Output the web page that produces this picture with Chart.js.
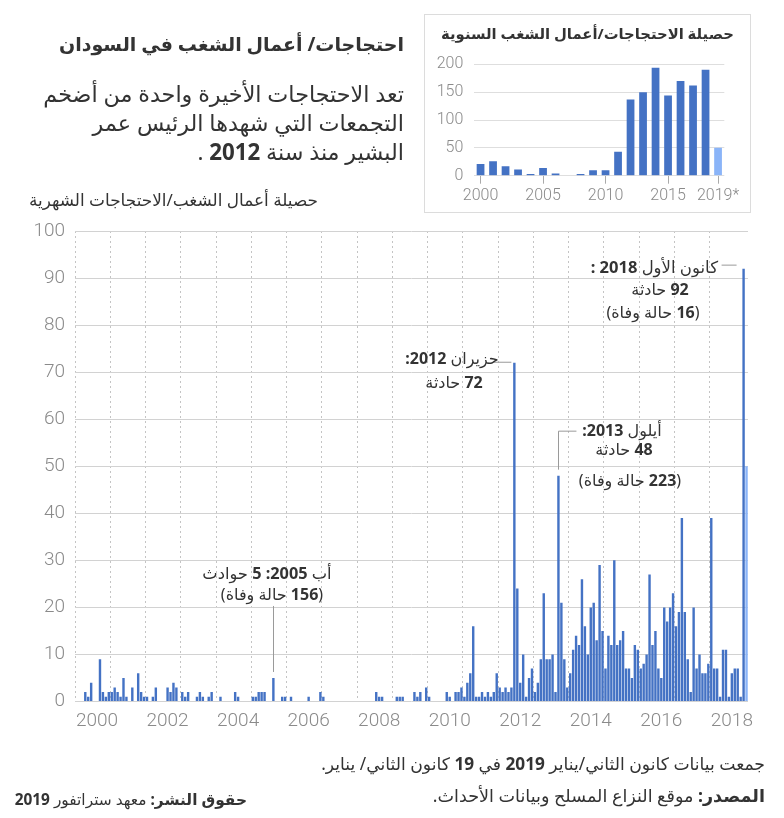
<!DOCTYPE html>
<html lang="ar">
<head>
<meta charset="utf-8">
<script src="https://cdn.jsdelivr.net/npm/chart.js@4.4.1/dist/chart.umd.min.js"></script>
<style>
html,body{margin:0;padding:0;background:#fff;width:784px;height:818px;overflow:hidden;}
body{position:relative;font-family:"Noto Sans","DejaVu Sans",sans-serif;color:#333;}
.t{position:absolute;direction:rtl;white-space:nowrap;}
.b{font-weight:700;}
#main{position:absolute;left:0;top:0;}
#insetBox{position:absolute;left:424px;top:14px;width:327px;height:199px;border:1px solid #dcdcdc;box-sizing:border-box;background:#fff;}
#inset{position:absolute;left:424px;top:14px;}
</style>
</head>
<body>
<canvas id="main" width="784" height="818"></canvas>
<div id="insetBox"></div>
<canvas id="inset" width="327" height="199"></canvas>

<div class="t b" style="right:380px;top:30px;font-size:19px;line-height:28px;">احتجاجات/ أعمال الشغب في السودان</div>
<div class="t" style="right:380px;top:79px;font-size:22.3px;line-height:29px;">تعد الاحتجاجات الأخيرة واحدة من أضخم<br>التجمعات التي شهدها الرئيس عمر<br>البشير منذ سنة <span class="b">2012</span> .</div>

<div class="t b" style="left:424px;width:327px;text-align:center;top:22px;font-size:14.8px;line-height:22px;">حصيلة الاحتجاجات/أعمال الشغب السنوية</div>

<div class="t" style="right:466px;top:189px;font-size:16.9px;line-height:22px;">حصيلة أعمال الشغب/الاحتجاجات الشهرية</div>

<div class="t" style="right:66px;top:256px;font-size:16.5px;line-height:22px;">كانون الأول <span class="b">2018 :</span></div>
<div class="t" style="left:560px;width:200px;text-align:center;top:278px;font-size:16px;line-height:22px;"><span class="b">92</span> حادثة</div>
<div class="t" style="left:553px;width:200px;text-align:center;top:301px;font-size:16px;line-height:22px;">(<span class="b">16</span> حالة وفاة)</div>

<div class="t" style="left:352px;width:200px;text-align:center;top:347px;font-size:16px;line-height:22px;">حزيران <span class="b">2012:</span></div>
<div class="t" style="left:354px;width:200px;text-align:center;top:371px;font-size:16px;line-height:22px;"><span class="b">72</span> حادثة</div>

<div class="t" style="left:522px;width:200px;text-align:center;top:419px;font-size:16px;line-height:22px;">أيلول <span class="b">2013:</span></div>
<div class="t" style="left:524px;width:200px;text-align:center;top:438px;font-size:16px;line-height:22px;"><span class="b">48</span> حادثة</div>
<div class="t" style="left:530px;width:200px;text-align:center;top:469px;font-size:16px;line-height:22px;">(<span class="b">223</span> حالة وفاة)</div>

<div class="t" style="left:167px;width:200px;text-align:center;top:562px;font-size:16.3px;line-height:22px;">أب <span class="b">2005:</span> <span class="b">5</span> حوادث</div>
<div class="t" style="left:172px;width:200px;text-align:center;top:583px;font-size:16px;line-height:22px;">(<span class="b">156</span> حالة وفاة)</div>

<div class="t" style="right:19px;top:752px;font-size:17.2px;line-height:24px;">جمعت بيانات كانون الثاني/يناير <span class="b">2019</span> في <span class="b">19</span> كانون الثاني/ يناير.</div>
<div class="t" style="right:19px;top:783px;font-size:17.6px;line-height:24px;"><span class="b">المصدر:</span> موقع النزاع المسلح وبيانات الأحداث.</div>
<div class="t" style="right:537px;top:788px;font-size:15.4px;line-height:24px;"><span class="b">حقوق النشر:</span> معهد ستراتفور <span class="b">2019</span></div>

<script>
// ---- Data ----
const firstYear = 2000;
// Monthly protest/riot incidents, Jan 2000 .. Jan 2019 (one row per year)
const monthlyIncidents = [
  0,0,0,2,1,4,0,0,9,2,1,2,        // 2000
  2,3,2,1,5,1,0,3,0,6,2,1,        // 2001
  1,0,1,3,0,0,0,3,2,4,3,0,        // 2002
  2,1,2,0,0,1,2,1,0,1,2,0,        // 2003
  0,1,0,0,0,0,2,1,0,0,0,0,        // 2004
  1,1,2,2,2,0,0,5,0,0,1,1,        // 2005
  0,1,0,0,0,0,0,1,0,0,0,2,        // 2006
  1,0,0,0,0,0,0,0,0,0,0,0,        // 2007
  0,0,0,0,0,0,2,1,1,0,0,0,        // 2008
  0,1,1,1,0,0,0,2,1,2,0,3,        // 2009
  1,0,0,0,0,0,2,1,0,2,2,3,        // 2010
  1,4,6,16,1,1,2,1,2,1,2,6,       // 2011
  3,2,3,2,3,72,24,4,10,1,5,7,     // 2012
  2,4,9,23,9,9,10,2,48,21,9,3,    // 2013
  6,11,14,12,26,16,10,20,21,13,29,15, // 2014
  7,14,12,30,12,13,15,7,7,5,12,11,    // 2015
  7,8,10,27,12,15,7,5,20,17,20,23,    // 2016
  16,19,39,19,9,2,20,7,10,6,6,8,      // 2017
  39,7,7,1,11,11,1,6,7,7,1,92,        // 2018
  50                                  // Jan 2019 (partial)
];
const monthLabels = monthlyIncidents.map((v, i) => (firstYear + Math.floor(i / 12)) + '-' + String(i % 12 + 1).padStart(2, '0'));
const monthlyTickYears = ['2000','2002','2004','2006','2008','2010','2012','2014','2016','2018'];
const monthlyYTicks = [0,10,20,30,40,50,60,70,80,90,100];

// Annual totals (inset)
const annualYears = ['2000','2001','2002','2003','2004','2005','2006','2007','2008','2009','2010','2011','2012','2013','2014','2015','2016','2017','2018','2019*'];
const annualIncidents = [21,26,17,11,3,14,4,1,3,10,10,43,137,150,194,144,170,162,190,50];
const annualTickLabels = ['2000','2005','2010','2015','2019*'];

// Annotated months (index into monthlyIncidents)
const notes = {dec2018: 227, jun2012: 149, sep2013: 164, aug2005: 67};

// ---- Styles ----
const barColor = '#4472c4';
const partialColor = '#8ab4f8';
const tickColor = '#8a8a8a';
const gridColor = '#d2d2d2';
const numFont = {family: 'Roboto', weight: '300', size: 19};

const leaderPlugin = {
  id: 'leaders',
  afterDatasetsDraw(chart) {
    const {ctx, scales: {x, y}} = chart;
    ctx.save();
    ctx.strokeStyle = '#9a9a9a';
    ctx.lineWidth = 1;
    const line = (pts) => { ctx.beginPath(); ctx.moveTo(pts[0][0], pts[0][1]); for (let k = 1; k < pts.length; k++) ctx.lineTo(pts[k][0], pts[k][1]); ctx.stroke(); };
    let px = x.getPixelForValue(notes.dec2018), py = y.getPixelForValue(monthlyIncidents[notes.dec2018]);
    line([[px - 22, py - 3.5], [px - 7, py - 3.5]]);
    px = x.getPixelForValue(notes.jun2012); py = y.getPixelForValue(monthlyIncidents[notes.jun2012]);
    line([[px - 21, py - 0.5], [px - 3, py - 0.5]]);
    px = x.getPixelForValue(notes.sep2013); py = y.getPixelForValue(monthlyIncidents[notes.sep2013]);
    line([[Math.round(px) + 0.5, py - 6], [Math.round(px) + 0.5, py - 44.5], [px + 18, py - 44.5]]);
    px = x.getPixelForValue(notes.aug2005); py = y.getPixelForValue(monthlyIncidents[notes.aug2005]);
    line([[Math.round(px) + 0.5, py - 6], [Math.round(px) + 0.5, py - 72]]);
    ctx.restore();
  }
};

new Chart(document.getElementById('main'), {
  type: 'bar',
  data: {
    labels: monthLabels,
    datasets: [{
      data: monthlyIncidents,
      backgroundColor: (c) => c.dataIndex === monthlyIncidents.length - 1 ? partialColor : barColor,
      borderWidth: 0,
      barPercentage: 1,
      categoryPercentage: 0.82
    }]
  },
  options: {
    responsive: false,
    animation: false,
    events: [],
    layout: {padding: {left: 0, right: 36, top: 231, bottom: 0}},
    plugins: {legend: {display: false}, tooltip: {enabled: false}},
    scales: {
      x: {
        afterFit: (s) => { s.height = 116.5; },
        grid: {
          offset: true,
          drawTicks: false,
          color: (c) => (c.index % 12 === 0 && c.index < monthlyIncidents.length - 1) ? '#c4c4c4' : 'rgba(0,0,0,0)',
          lineWidth: 1
        },
        border: {display: false, dash: [2, 3]},
        ticks: {
          autoSkip: false, maxRotation: 0, minRotation: 0, padding: 8,
          color: tickColor, font: numFont,
          callback: (v, i) => {
            const yr = String(firstYear + Math.floor(i / 12));
            return (i % 12 === 7 && monthlyTickYears.includes(yr)) ? yr : '';
          }
        }
      },
      y: {
        min: 0, max: 100,
        afterFit: (s) => { s.width = 75; },
        afterBuildTicks: (s) => { s.ticks = monthlyYTicks.map(v => ({value: v})); },
        grid: {color: gridColor, drawTicks: false, lineWidth: 1},
        border: {display: false},
        ticks: {padding: 10, color: tickColor, font: numFont}
      }
    }
  },
  plugins: [leaderPlugin]
});

new Chart(document.getElementById('inset'), {
  type: 'bar',
  data: {
    labels: annualYears,
    datasets: [{
      data: annualIncidents,
      backgroundColor: (c) => c.dataIndex === annualIncidents.length - 1 ? partialColor : barColor,
      borderWidth: 0,
      barPercentage: 1,
      categoryPercentage: 0.62
    }]
  },
  options: {
    responsive: false,
    animation: false,
    events: [],
    layout: {padding: {left: 0, right: 26.7, top: 50.3, bottom: 0}},
    plugins: {legend: {display: false}, tooltip: {enabled: false}},
    scales: {
      x: {
        afterFit: (s) => { s.height = 37.3; },
        grid: {
          offset: false, drawOnChartArea: false, drawTicks: true, tickLength: 8,
          color: (c) => annualTickLabels.includes(annualYears[c.index]) ? '#aaaaaa' : 'rgba(0,0,0,0)',
          tickColor: (c) => annualTickLabels.includes(annualYears[c.index]) ? '#aaaaaa' : 'rgba(0,0,0,0)'
        },
        border: {display: false},
        ticks: {
          autoSkip: false, maxRotation: 0, minRotation: 0, padding: 3,
          color: tickColor, font: {family: 'Roboto', weight: '300', size: 16},
          callback: (v, i) => annualTickLabels.includes(annualYears[i]) ? annualYears[i] : ''
        }
      },
      y: {
        min: 0, max: 200,
        afterFit: (s) => { s.width = 50.3; },
        ticks: {stepSize: 50, padding: 11, color: tickColor, font: {family: 'Roboto', weight: '300', size: 16}},
        grid: {color: '#dedede', drawTicks: false},
        border: {display: false}
      }
    }
  }
});
</script>
</body>
</html>
